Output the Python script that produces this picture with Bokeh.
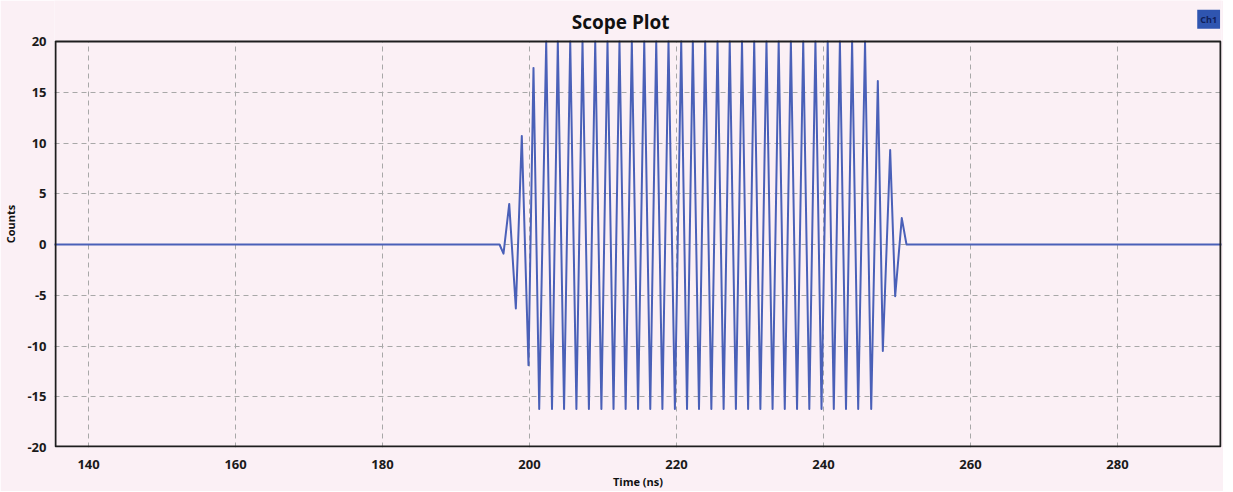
from bokeh.plotting import figure
from bokeh.models import Range1d, FixedTicker, Label, BoxAnnotation
from bokeh.embed import file_html
from bokeh.resources import INLINE

# ---- data ----
x_ticks = [140, 160, 180, 200, 220, 240, 260, 280]
y_ticks = [-20, -15, -10, -5, 0, 5, 10, 15, 20]
x_tick_labels = ["140", "160", "180", "200", "220", "240", "260", "280"]
y_tick_labels = ["-20", "-15", "-10", "-5", "0", "5", "10", "15", "20"]

# flat baseline before / after the burst (ns, counts)
baseline_t = [135.0, 195.92, 251.29, 296.0]
baseline_v = [0.0, 0.0, 0.0, 0.0]

# positive extremes of the burst (20 = top of the scale, the trace is cut there)
peak_t = [197.24, 198.95, 200.54,
          202.27, 203.85, 205.54, 207.21, 208.94, 210.61, 212.24, 213.92, 215.61,
          217.24, 218.91, 220.64, 222.22, 223.90, 225.58, 227.24, 228.91, 230.57,
          232.24, 233.90, 235.56, 237.24, 238.90, 240.57, 242.23, 243.89, 245.65,
          247.39, 249.07, 250.65]
peak_v = [4.0, 10.7, 17.4] + [20.0] * 27 + [16.1, 9.3, 2.6]

# negative extremes of the burst (floor at about -16.2)
trough_t = [196.46, 198.14, 199.86,
            201.32, 203.06, 204.70, 206.38, 208.08, 209.78, 211.43, 213.08, 214.77,
            216.43, 218.08, 219.78, 221.43, 223.06, 224.74, 226.41, 228.08, 229.74,
            231.41, 233.07, 234.73, 236.40, 238.07, 239.73, 241.40, 243.06, 244.72,
            246.49, 248.07, 249.75]
trough_v = [-0.9, -6.3, -11.9] + [-16.2] * 28 + [-10.5, -5.1]

title_text = "Scope Plot"
legend_text = "Ch1"

# ---- build one trace ----
pts = sorted(list(zip(baseline_t, baseline_v)) + list(zip(peak_t, peak_v)) +
             list(zip(trough_t, trough_v)))
trace_t = [a for a, b in pts]
trace_v = [b for a, b in pts]

# ---- view / style ----
FRAME_W, FRAME_H = 1167, 447
X_START, X_END = 135.37, 294.15
Y_MIN, Y_MAX = y_ticks[0], y_ticks[-1]
Y_HEAD = Y_MIN + FRAME_H / 10.15   # head-room above the scale for the title row
BG = "#fbf0f5"
LINE = "#4a60b8"
FONT = "Open Sans"

p = figure(frame_width=FRAME_W, frame_height=FRAME_H, output_backend="svg",
           toolbar_location=None,
           x_range=Range1d(X_START, X_END), y_range=Range1d(Y_MIN, Y_HEAD),
           min_border_left=48, min_border_right=2, min_border_top=0,
           min_border_bottom=36,
           background_fill_color=BG, border_fill_color=BG,
           outline_line_color=None)

p.line(trace_t, trace_v, line_color=LINE, line_width=2, line_join="round")

for ax in (p.xaxis[0], p.yaxis[0]):
    ax.axis_line_color = None
    ax.major_tick_line_color = None
    ax.minor_tick_line_color = None
    ax.major_label_text_font = FONT
    ax.major_label_text_font_style = "bold"
    ax.major_label_text_font_size = "13px"
    ax.major_label_text_color = "#1a1a1a"
    ax.axis_label_text_font = FONT
    ax.axis_label_text_font_style = "bold"
    ax.axis_label_text_font_size = "11px"
    ax.axis_label_text_color = "#111111"

p.xaxis.ticker = FixedTicker(ticks=x_ticks)
p.yaxis.ticker = FixedTicker(ticks=y_ticks)
p.xaxis.major_label_overrides = dict(zip(x_ticks, x_tick_labels))
p.yaxis.major_label_overrides = dict(zip(y_ticks, y_tick_labels))
p.xaxis.axis_label = "Time (ns)"
p.yaxis.axis_label = "Counts"
p.xaxis.major_label_standoff = 6
p.xaxis.axis_label_standoff = 2
p.yaxis.major_label_standoff = 2
p.yaxis.axis_label_standoff = 6

p.xgrid.grid_line_color = "#a8a8a8"
p.ygrid.grid_line_color = "#a8a8a8"
p.xgrid.grid_line_dash = "5 4"
p.ygrid.grid_line_dash = "5 4"
p.xgrid.cross_bounds = (Y_MIN, Y_MAX)

# plot-area border (scale box)
ex = (X_END - X_START) / FRAME_W
ey = (Y_HEAD - Y_MIN) / FRAME_H
box = BoxAnnotation(left=X_START + ex, right=X_END - ex, bottom=Y_MIN + ey, top=Y_MAX,
                    fill_color=None, fill_alpha=0, line_color="#1e1e1e",
                    line_alpha=1.0, line_width=2)
p.add_layout(box)

title = Label(x=212.4, y=21.9, text=title_text, text_align="center",
              text_baseline="middle", text_font=FONT, text_font_style="bold",
              text_font_size="19px", text_color="#111111")
p.add_layout(title)

legend_box = Label(x=292.4, y=22.2, text=legend_text, text_align="center",
                   text_baseline="middle", text_font=FONT, text_font_style="bold",
                   text_font_size="9px", text_color="#10205a",
                   background_fill_color="#2f55b0", padding=3)
p.add_layout(legend_box)

open("out.html", "w").write(file_html(p, INLINE))
